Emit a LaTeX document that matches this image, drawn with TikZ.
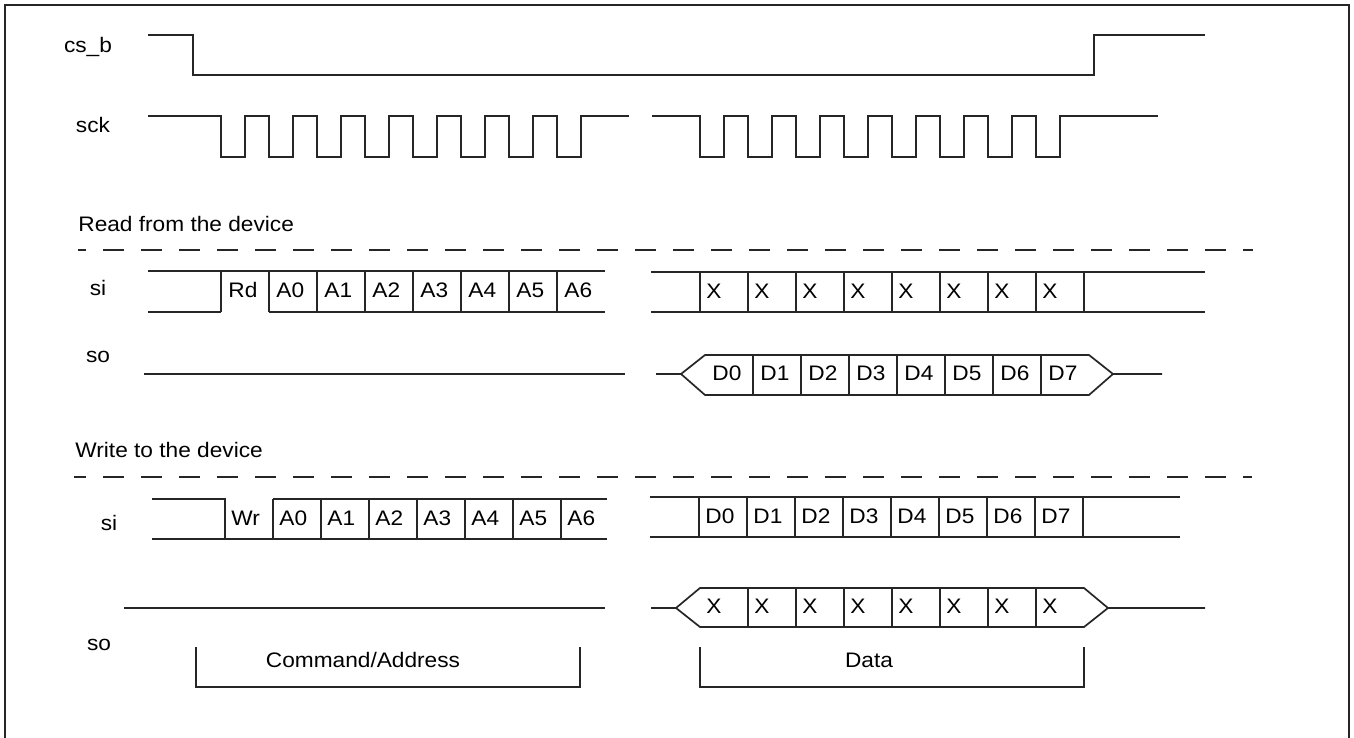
\documentclass[tikz,border=0pt]{standalone}
\usepackage{fontspec}
\setmainfont{Liberation Sans}[FakeStretch=1.08]
\usepackage{tikz}

\begin{document}
\begin{tikzpicture}[x=0.5pt, y=-0.5pt,
  wave/.style={line width=0.85pt, black!85, line join=miter},
  sep/.style={wave, dash pattern=on 10.5pt off 8.5pt},
  lbl/.style={anchor=base, inner sep=0pt, font=\fontsize{10.5}{12}\selectfont},
  hd/.style={anchor=base west, inner sep=0pt, font=\fontsize{10.5}{12}\selectfont},
  cell/.style={anchor=base west, inner sep=0pt, font=\fontsize{10.5}{12}\selectfont}]
  \useasboundingbox (0,0) rectangle (1354,738);
  \draw[wave] (5,740) -- (5,5) -- (1349,5) -- (1349,740);

  \node[lbl] (csb) at (88,53) {cs\_b};
  \node[lbl] (sck) at (93,133) {sck};
  \draw[wave] (148,35) -- (193,35) -- (193,75) -- (1094,75) -- (1094,35) -- (1205,35);
  \draw[wave] (148,116) -- (221,116)
    \foreach \k in {0,...,7} { -- ++(0,41) -- ++(24,0) -- ++(0,-41) -- ++(24,0) } -- (629,116);
  \draw[wave] (652,116) -- (700,116)
    \foreach \k in {0,...,7} { -- ++(0,41) -- ++(24,0) -- ++(0,-41) -- ++(24,0) } -- (1158,116);

  \node[hd] (readhd) at (78,231) {Read from the device};
  \draw[sep, dash phase=6.5pt] (78,250) -- (1253,250);

  \node[lbl] (rsi) at (98,295) {si};
  \draw[wave] (148,271) -- (605,271);
  \draw[wave] (148,312) -- (221,312) (269,312) -- (605,312);
  \foreach \x in {221,269,...,557}
    \draw[wave] (\x,271) -- (\x,312);
  \foreach \t [count=\i from 0] in {Rd,A0,A1,A2,A3,A4,A5,A6}
    \node[cell] (rsia\i) at ({228+48*\i},297) {\t};
  \draw[wave] (651,272) -- (1205,272) (651,312) -- (1205,312);
  \foreach \x in {700,748,...,1084}
    \draw[wave] (\x,272) -- (\x,312);
  \foreach \i in {0,...,7}
    \node[cell] (rsid\i) at ({706+48*\i},298) {X};

  \node[lbl] (rso) at (98,362) {so};
  \draw[wave] (144,374) -- (625,374);
  \draw[wave] (656,374) -- (681,374) -- (705,355) -- (1089,355) -- (1113,374) -- (1162,374);
  \draw[wave] (681,374) -- (705,395) -- (1089,395) -- (1113,374);
  \foreach \x in {753,801,...,1041}
    \draw[wave] (\x,355) -- (\x,395);
  \foreach \i in {0,...,7}
    \node[cell] (rsod\i) at ({712+48*\i},380) {D\i};

  \node[hd] (writehd) at (75,457) {Write to the device};
  \draw[sep, dash phase=4.5pt] (74,477) -- (1252,477);

  \node[lbl] (wsi) at (109,530) {si};
  \draw[wave] (152,499) -- (225,499) -- (225,539) (273,499) -- (607,499);
  \draw[wave] (152,539) -- (607,539);
  \foreach \x in {273,321,...,561}
    \draw[wave] (\x,499) -- (\x,539);
  \foreach \t [count=\i from 0] in {Wr,A0,A1,A2,A3,A4,A5,A6}
    \node[cell] (wsia\i) at ({231+48*\i},525) {\t};
  \draw[wave] (650,497) -- (1180,497) (650,537) -- (1180,537);
  \foreach \x in {699,747,...,1083}
    \draw[wave] (\x,497) -- (\x,537);
  \foreach \i in {0,...,7}
    \node[cell] (wsid\i) at ({705+48*\i},523) {D\i};

  \node[lbl] (wso) at (99,650) {so};
  \draw[wave] (124,608) -- (605,608);
  \draw[wave] (651,608) -- (676,608) -- (700,588) -- (1084,588) -- (1108,608) -- (1205,608);
  \draw[wave] (676,608) -- (700,627) -- (1084,627) -- (1108,608);
  \foreach \x in {748,796,...,1036}
    \draw[wave] (\x,588) -- (\x,627);
  \foreach \i in {0,...,7}
    \node[cell] (wsod\i) at ({706+48*\i},613) {X};

  \draw[wave] (196,647) -- (196,687) -- (580,687) -- (580,647);
  \node[lbl] (cmdaddr) at (363,667) {Command/Address};
  \draw[wave] (700,647) -- (700,687) -- (1084,687) -- (1084,647);
  \node[lbl] (data) at (869,667) {Data};
\end{tikzpicture}
\end{document}
